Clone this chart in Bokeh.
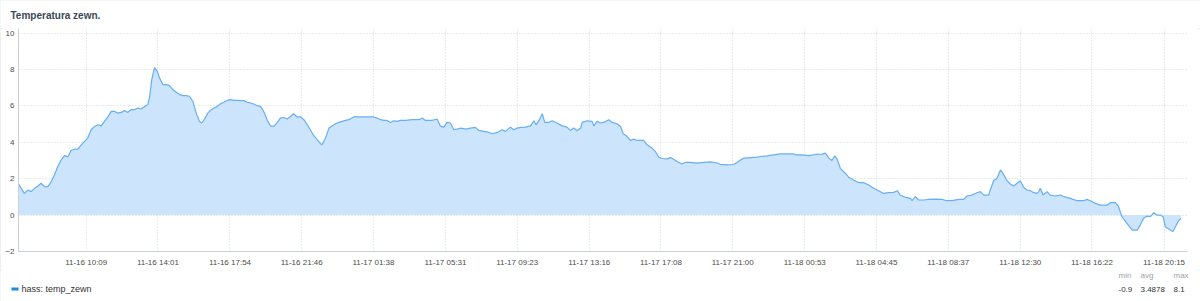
import pandas as pd
from bokeh.plotting import figure
from bokeh.layouts import column, row
from bokeh.models import (Range1d, FixedTicker, DatetimeTickFormatter,
                          ColumnDataSource)
from bokeh.core.properties import value
from bokeh.embed import file_html
from bokeh.resources import INLINE

title = "Temperatura zewn."
series_name = "hass: temp_zewn"
start = "2023-11-16 06:30"

# minutes after start
minutes = [
    0, 19, 30, 41, 52, 63, 73, 84, 95, 106, 116, 127, 138, 149, 160, 170, 181, 192, 203, 213,
    224, 235, 246, 257, 267, 278, 289, 300, 310, 321, 332, 343, 354, 364, 375, 386, 397, 408, 418, 424,
    431, 440, 449, 456, 467, 478, 488, 499, 510, 521, 532, 542, 553, 564, 575, 585, 593, 602, 612, 623,
    632, 643, 653, 664, 675, 686, 696, 707, 718, 729, 740, 750, 761, 772, 783, 793, 804, 815, 826, 837,
    847, 858, 869, 880, 890, 901, 912, 923, 934, 944, 955, 966, 977, 982, 993, 1004, 1014, 1025, 1036, 1047,
    1058, 1068, 1084, 1106, 1128, 1149, 1160, 1171, 1182, 1192, 1203, 1214, 1225, 1235, 1246,
    1252, 1273, 1295, 1306, 1316, 1338, 1354, 1365, 1376, 1386, 1397, 1408, 1419, 1430, 1446, 1462, 1478, 1489, 1505, 1521,
    1532, 1548, 1564, 1575, 1591, 1602, 1613, 1624, 1640, 1656, 1667, 1674, 1685, 1694, 1702, 1715, 1726, 1742, 1758, 1774,
    1785, 1796, 1807, 1818, 1823, 1839, 1855, 1861, 1871,
    1882, 1893, 1909, 1920, 1936, 1947, 1956, 1966, 1979, 1990, 2001, 2022, 2033, 2049, 2060, 2071, 2082, 2098, 2109, 2119,
    2130, 2146, 2157, 2173, 2195, 2216, 2238, 2254, 2270, 2292, 2313, 2324, 2335, 2346, 2367, 2389, 2400, 2421, 2443, 2464,
    2486, 2507,
    2513, 2534, 2556, 2577, 2599, 2610, 2621, 2631, 2640, 2648, 2658, 2674, 2685, 2701, 2718, 2734, 2750, 2766, 2782, 2798,
    2815, 2831, 2842, 2852, 2869, 2885, 2890, 2901, 2912, 2928, 2944, 2966, 2987, 3003, 3019, 3041, 3057, 3068, 3084, 3100,
    3111, 3122, 3138,
    3143, 3154, 3165, 3176, 3187, 3197, 3208, 3219, 3230, 3240, 3251, 3262, 3273, 3284, 3294, 3300, 3305, 3314, 3327, 3337,
    3354, 3370, 3381, 3402, 3424, 3445, 3456, 3467, 3483, 3499, 3521, 3531, 3548, 3558, 3569, 3585, 3602, 3618, 3628, 3639,
    3650, 3661, 3672, 3682, 3693, 3702, 3709, 3726, 3734, 3742, 3752, 3760,
]

temp = [
    1.7, 1.19, 1.38, 1.29, 1.47, 1.6, 1.75, 1.56, 1.56, 1.84, 2.2, 2.67, 3.03, 3.27, 3.2, 3.55, 3.62, 3.62, 3.86, 4.04,
    4.23, 4.69, 4.87, 4.96, 4.9, 5.15, 5.39, 5.7, 5.7, 5.6, 5.64, 5.74, 5.64, 5.79, 5.79, 5.88, 5.83, 5.97, 6.07, 6.5,
    7.44, 8.1, 7.9, 7.54, 7.17, 7.17, 7.11, 6.9, 6.75, 6.62, 6.56, 6.56, 6.53, 6.25, 5.6, 5.15, 5.06, 5.28, 5.6, 5.79,
    5.88, 5.97, 6.12, 6.2, 6.3, 6.34, 6.3, 6.3, 6.29, 6.29, 6.2, 6.16, 6.1, 6.01, 5.97, 5.7, 5.24, 4.9, 4.87, 5.09,
    5.33, 5.36, 5.28, 5.42, 5.57, 5.39, 5.39, 5.24, 4.96, 4.69, 4.36, 4.14, 3.92, 3.86, 4.23, 4.78, 4.9, 5.02, 5.09, 5.15,
    5.2, 5.24, 5.39, 5.39, 5.39, 5.39, 5.33, 5.24, 5.2, 5.2, 5.09, 5.18, 5.15, 5.2, 5.2,
    5.2, 5.24, 5.24, 5.33, 5.2, 5.2, 5.28, 4.87, 4.83, 5.09, 5.06, 4.69, 4.72, 4.78, 4.72, 4.78, 4.82, 4.65, 4.6, 4.54,
    4.47, 4.54, 4.69, 4.6, 4.83, 4.69, 4.78, 4.82, 4.83, 4.9, 5.18, 4.96, 5.24, 5.57, 5.09, 5.09, 5.18, 5.06, 4.9, 4.83,
    4.65, 4.78, 4.63, 4.78, 5.09, 5.18, 5.15, 4.9, 5.15,
    5.06, 5.09, 5.24, 5.09, 5.02, 4.87, 4.47, 4.36, 4.1, 4.17, 4.1, 4.1, 3.86, 3.68, 3.49, 3.18, 3.11, 3.09, 3.16, 3.07,
    2.94, 2.81, 2.9, 2.9, 2.85, 2.9, 2.92, 2.89, 2.79, 2.76, 2.78, 2.89, 3.03, 3.13, 3.16, 3.18, 3.22, 3.25, 3.31, 3.36,
    3.36, 3.36,
    3.31, 3.31, 3.27, 3.33, 3.35, 3.4, 3.13, 3.0, 3.25, 3.07, 2.57, 2.3, 2.08, 1.93, 1.78, 1.78, 1.65, 1.47, 1.34, 1.19,
    1.23, 1.25, 1.34, 1.1, 0.97, 0.92, 0.79, 1.01, 0.83, 0.83, 0.86, 0.88, 0.86, 0.79, 0.79, 0.86, 0.86, 1.05, 1.1, 1.23,
    1.29, 1.1, 1.1,
    1.38, 1.89, 2.02, 2.48, 2.21, 1.89, 1.71, 1.6, 1.75, 1.89, 1.53, 1.38, 1.34, 1.23, 1.19, 1.29, 1.47, 1.1, 1.29, 1.1,
    1.05, 1.1, 1.01, 0.92, 0.79, 0.79, 0.86, 0.79, 0.64, 0.55, 0.55, 0.68, 0.68, 0.46, -0.09, -0.46, -0.83, -0.83, -0.55, -0.18,
    -0.06, -0.09, 0.13, 0.0, 0.0, -0.09, -0.64, -0.83, -0.9, -0.64, -0.31, -0.18,
]

tick_labels = ["11-16 10:09", "11-16 14:01", "11-16 17:54", "11-16 21:46",
               "11-17 01:38", "11-17 05:31", "11-17 09:23", "11-17 13:16",
               "11-17 17:08", "11-17 21:00", "11-18 00:53", "11-18 04:45",
               "11-18 08:37", "11-18 12:30", "11-18 16:22", "11-18 20:15"]
y_ticks = [-2, 0, 2, 4, 6, 8, 10]
stat_names = ["min", "avg", "max"]
stat_values = ["-0.9", "3.4878", "8.1"]

FONT = "Liberation Sans"
W = 1200


def strip(height, y_top):
    """A full-width axis-less figure whose data coordinates equal canvas pixels."""
    f = figure(width=W, height=height, output_backend="svg", toolbar_location=None,
               x_axis_location=None, y_axis_location=None,
               x_range=Range1d(0, W), y_range=Range1d(y_top + height, y_top),
               min_border=0)
    f.outline_line_color = None
    f.grid.visible = False
    f.background_fill_color = "white"
    f.border_fill_color = "white"
    return f


# ---- title strip (canvas rows 0..28)
top = strip(28, 0)
top.text(x=[10], y=[15], text=[title], text_font=value(FONT), text_font_size="10px",
         text_font_style="bold", text_color="#3b4856", text_baseline="middle")

# ---- main chart (canvas rows 28..270)
t0 = pd.Timestamp(start)
xs = [t0 + pd.Timedelta(minutes=m) for m in minutes]
src = ColumnDataSource(dict(x=xs, y=temp, zero=[0] * len(temp)))
tick_ms = [pd.Timestamp("2023-" + s).timestamp() * 1000 for s in tick_labels]
x_end = t0 + pd.Timedelta(minutes=3781)

p = figure(width=W, height=242, x_axis_type="datetime", output_backend="svg",
           toolbar_location=None, min_border_left=18, min_border_right=13,
           min_border_top=0, min_border_bottom=19,
           x_range=Range1d(t0, x_end), y_range=Range1d(-2, 10.25))
p.outline_line_color = None
p.background_fill_color = "white"
p.border_fill_color = "white"

p.varea(x="x", y1="zero", y2="y", source=src, fill_color="#cce5fc")
p.line(x="x", y="y", source=src, line_color="#66aef5", line_width=1.2)

fmt = "%m-%d %H:%M"
p.xaxis.ticker = FixedTicker(ticks=tick_ms)
p.xaxis.formatter = DatetimeTickFormatter(
    microseconds=fmt, milliseconds=fmt, seconds=fmt, minsec=fmt, minutes=fmt,
    hourmin=fmt, hours=fmt, days=fmt, months=fmt, years=fmt)
p.yaxis.ticker = FixedTicker(ticks=y_ticks)

for ax in (p.xaxis[0], p.yaxis[0]):
    ax.axis_line_color = "#c9d1d9"
    ax.major_tick_line_color = None
    ax.minor_tick_line_color = None
    ax.major_tick_out = 0
    ax.major_tick_in = 0
    ax.minor_tick_out = 0
    ax.minor_tick_in = 0
    ax.major_label_text_font_size = "8px"
    ax.major_label_text_color = "#4d4d4d"
    ax.major_label_text_font = FONT
p.xaxis.major_label_standoff = 6
p.yaxis.major_label_standoff = 4

p.grid.grid_line_color = "#d3d9df"
p.grid.grid_line_dash = "1 2"

# ---- legend / stats strip (canvas rows 270..301)
bot = strip(31, 270)
bot.quad(left=[11], right=[18], top=[287], bottom=[290], fill_color="#1e88e5", line_color=None)
bot.text(x=[21], y=[288.5], text=[series_name], text_font=value(FONT), text_font_size="9px",
         text_color="#333333", text_baseline="middle")
bot.text(x=[1118, 1140, 1173], y=[275] * 3, text=stat_names, text_font=value(FONT),
         text_font_size="8px", text_color="#9aa3ab", text_baseline="middle")
bot.text(x=[1118, 1140, 1173], y=[288.5] * 3, text=stat_values, text_font=value(FONT),
         text_font_size="8px", text_color="#333333", text_baseline="middle")

layout = column(row(top), p, row(bot), spacing=0,
                styles={"outline": "3px solid #e7eaed", "outline-offset": "-3px"})
open("out.html", "w").write(file_html(layout, INLINE))
